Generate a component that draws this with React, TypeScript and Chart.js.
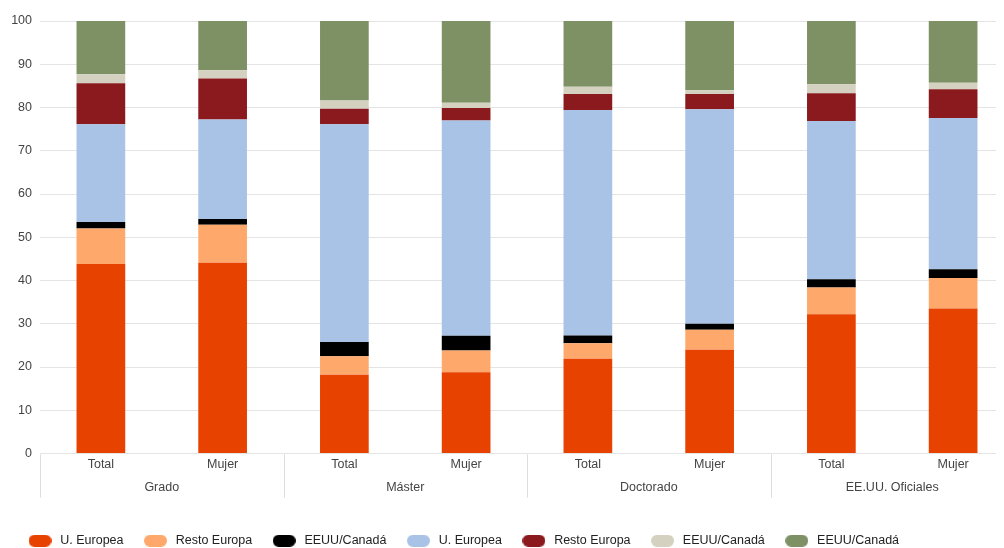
import React, { useEffect, useRef } from 'react';
import { Chart, registerables } from 'chart.js';

Chart.register(...registerables);

// ---- Data ----
const categories = ['Total', 'Mujer', 'Total', 'Mujer', 'Total', 'Mujer', 'Total', 'Mujer'];
const groups = ['Grado', 'Máster', 'Doctorado', 'EE.UU. Oficiales'];
const yTicks = [0, 10, 20, 30, 40, 50, 60, 70, 80, 90, 100];

const seriesLabels = ['U. Europea', 'Resto Europa', 'EEUU/Canadá', 'U. Europea', 'Resto Europa', 'EEUU/Canadá', 'EEUU/Canadá'];
const seriesColors = ['#E84200', '#FFA86B', '#000000', '#A9C3E7', '#8B1A1F', '#D4D1C1', '#7E9164'];

const uEuropeaA = [43.8, 44.1, 18.2, 18.8, 21.9, 24.0, 32.2, 33.5];
const restoEuropaA = [8.2, 8.8, 4.3, 5.0, 3.6, 4.6, 6.2, 7.1];
const eeuuCanadaA = [1.5, 1.3, 3.3, 3.4, 1.8, 1.4, 1.9, 2.0];
const uEuropeaB = [22.6, 23.0, 50.3, 49.8, 52.1, 49.6, 36.6, 35.0];
const restoEuropaB = [9.5, 9.5, 3.6, 2.9, 3.7, 3.5, 6.4, 6.6];
const eeuuCanadaB = [2.1, 1.9, 1.9, 1.2, 1.7, 0.9, 2.1, 1.5];
const eeuuCanadaC = [12.3, 11.4, 18.4, 18.9, 15.2, 16.0, 14.6, 14.3];

const seriesValues = [uEuropeaA, restoEuropaA, eeuuCanadaA, uEuropeaB, restoEuropaB, eeuuCanadaB, eeuuCanadaC];

const FONT = "'Liberation Sans', Arial, sans-serif";

function makePill(color: string) {
  const c = document.createElement('canvas');
  c.width = 23;
  c.height = 12;
  const ctx = c.getContext('2d')!;
  ctx.fillStyle = color;
  ctx.beginPath();
  const r = 6;
  ctx.moveTo(r, 0);
  ctx.lineTo(23 - r, 0);
  ctx.arc(23 - r, 6, r, -Math.PI / 2, Math.PI / 2);
  ctx.lineTo(r, 12);
  ctx.arc(r, 6, r, Math.PI / 2, (3 * Math.PI) / 2);
  ctx.closePath();
  ctx.fill();
  return c;
}

const separatorPlugin = {
  id: 'groupSeparators',
  afterDraw(chart: any) {
    const x = chart.scales.x;
    const x2 = chart.scales.x2;
    const ctx = chart.ctx;
    ctx.save();
    ctx.strokeStyle = '#dcdcdc';
    ctx.lineWidth = 1;
    const y0 = chart.chartArea.bottom + 1;
    const y1 = x2.top + 21;
    const xs: number[] = [x.left];
    for (let k = 1; k < groups.length; k++) {
      xs.push((x.getPixelForValue(2 * k - 1) + x.getPixelForValue(2 * k)) / 2);
    }
    xs.push(x.right);
    xs.forEach((px) => {
      const p = Math.round(px) + 0.5;
      ctx.beginPath();
      ctx.moveTo(p, y0);
      ctx.lineTo(p, y1);
      ctx.stroke();
    });
    ctx.restore();
  },
};

export default function App() {
  const ref = useRef<HTMLCanvasElement | null>(null);

  useEffect(() => {
    document.documentElement.style.overflow = 'hidden';
    document.body.style.overflow = 'hidden';
    const pills = seriesColors.map(makePill);
    const chart = new Chart(ref.current!, {
      type: 'bar',
      data: {
        labels: categories,
        datasets: seriesValues.map((vals, i) => ({
          label: seriesLabels[i],
          data: vals,
          backgroundColor: seriesColors[i],
          borderWidth: 0,
          barPercentage: 0.8,
          categoryPercentage: 0.5,
        })),
      },
      options: {
        animation: false,
        responsive: true,
        maintainAspectRatio: false,
        layout: { padding: { top: 13, right: 2 } },
        plugins: {
          tooltip: { enabled: false },
          legend: {
            position: 'bottom',
            align: 'start',
            labels: {
              usePointStyle: true,
              pointStyleWidth: 28,
              padding: 18,
              color: '#222',
              font: { family: FONT, size: 12.5 },
              generateLabels: (c: any) =>
                Chart.defaults.plugins.legend.labels.generateLabels(c).map((l: any, i: number) => ({
                  ...l,
                  pointStyle: pills[i],
                })),
            },
          },
        },
        scales: {
          x: {
            stacked: true,
            grid: { display: false, drawTicks: false },
            border: { display: false },
            ticks: { color: '#444', font: { family: FONT, size: 12.5 }, padding: 4, autoSkip: false, maxRotation: 0 },
          },
          x2: {
            type: 'category',
            labels: groups,
            position: 'bottom',
            offset: true,
            grid: { display: false, drawTicks: false },
            border: { display: false },
            ticks: { color: '#444', font: { family: FONT, size: 12.5 }, padding: 3.5, autoSkip: false, maxRotation: 0 },
            afterFit: (s: any) => {
              s.height += 18;
            },
          },
          y: {
            stacked: true,
            min: 0,
            max: 100,
            afterBuildTicks: (s: any) => {
              s.ticks = yTicks.map((v) => ({ value: v }));
            },
            afterFit: (s: any) => {
              s.width = 32;
              s.paddingTop = 0;
            },
            grid: { color: '#e4e4e4', drawTicks: false },
            border: { display: false },
            ticks: { color: '#444', font: { family: FONT, size: 12.5 }, padding: 8 },
          },
        },
      },
      plugins: [separatorPlugin],
    });
    return () => chart.destroy();
  }, []);

  return (
    <div style={{ width: 1008, height: 549, position: 'relative' }}>
      <canvas ref={ref} />
    </div>
  );
}
